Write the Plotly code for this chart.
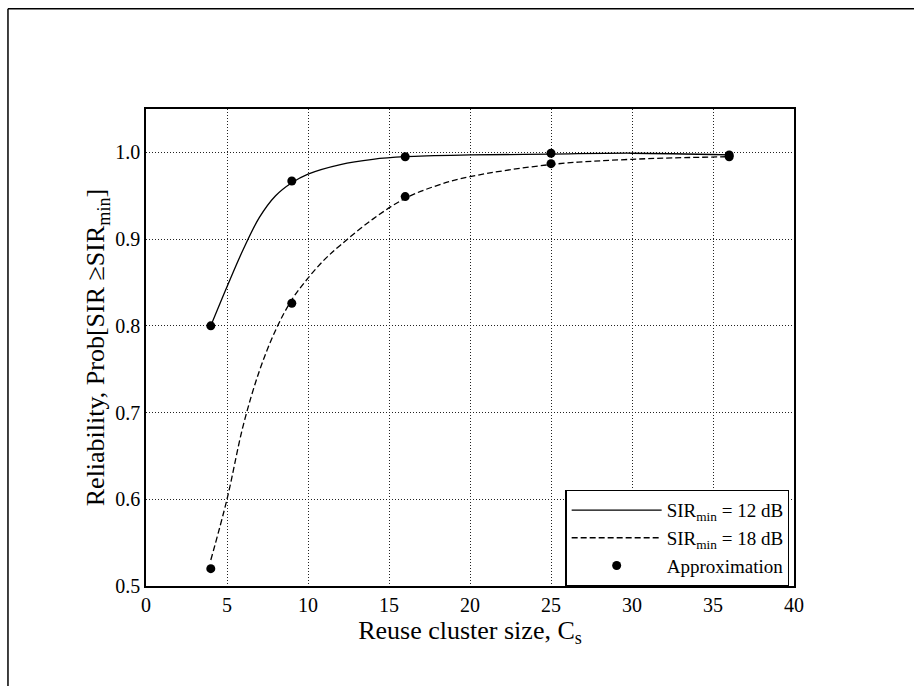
import plotly.graph_objects as go

# Approximation points
cluster_sizes = [4, 9, 16, 25, 36]
approx_12db = [0.800, 0.967, 0.995, 0.999, 0.997]
approx_18db = [0.520, 0.826, 0.949, 0.987, 0.995]

# Exact curves
curve_x_12 = [4, 5, 6, 7, 8, 9, 10, 12, 14, 16, 20, 25, 30, 36]
curve_y_12 = [0.800, 0.845, 0.888, 0.925, 0.950, 0.965, 0.975, 0.986, 0.992, 0.995, 0.997, 0.998, 0.999, 0.997]
curve_x_18 = [4, 5, 6, 7, 8, 9, 10, 11, 12, 14, 16, 18, 20, 25, 30, 36]
curve_y_18 = [0.530, 0.600, 0.685, 0.748, 0.795, 0.830, 0.855, 0.876, 0.893, 0.923, 0.947, 0.962, 0.972, 0.986, 0.992, 0.995]

x_ticks = [0, 5, 10, 15, 20, 25, 30, 35, 40]
y_ticks = [0.5, 0.6, 0.7, 0.8, 0.9, 1.0]

x_title = "Reuse cluster size, C<sub>s</sub>"
y_title = "Reliability, Prob[SIR \u2265SIR<sub>min</sub>]"

FONT = "Liberation Serif, Times New Roman, serif"

fig = go.Figure()
fig.add_trace(go.Scatter(x=curve_x_12, y=curve_y_12, mode="lines", line_shape="spline",
                         line=dict(color="black", width=1.3),
                         name="SIR<sub>min</sub> = 12 dB"))
fig.add_trace(go.Scatter(x=curve_x_18, y=curve_y_18, mode="lines", line_shape="spline",
                         line=dict(color="black", width=1.3, dash="6px,3px"),
                         name="SIR<sub>min</sub> = 18 dB"))
fig.add_trace(go.Scatter(x=cluster_sizes, y=approx_12db, mode="markers",
                         marker=dict(color="black", size=9),
                         name="Approximation"))
fig.add_trace(go.Scatter(x=cluster_sizes, y=approx_18db, mode="markers",
                         marker=dict(color="black", size=9),
                         name="Approximation", showlegend=False))

axis_common = dict(showline=True, linecolor="black", linewidth=1.5, mirror=True,
                   showgrid=True, gridcolor="#222222", gridwidth=1, griddash="1px,2px",
                   zeroline=False, ticks="", tickfont=dict(family=FONT, size=20, color="black"))

fig.update_xaxes(range=[0, 40], tickvals=x_ticks, ticktext=[str(v) for v in x_ticks],
                 title=dict(text=x_title,
                            font=dict(family=FONT, size=26, color="black"), standoff=2),
                 **axis_common)
fig.update_yaxes(range=[0.5, 1.05], tickvals=y_ticks, ticktext=[f"{v:.1f}" for v in y_ticks],
                 **axis_common)

fig.update_layout(
    width=914, height=686,
    margin=dict(l=146, r=120, t=109, b=100),
    paper_bgcolor="white", plot_bgcolor="white",
    font=dict(family=FONT, color="black"),
    legend=dict(x=0.993, y=0.0, xanchor="right", yanchor="bottom",
                bgcolor="white", bordercolor="black", borderwidth=1.2,
                font=dict(family=FONT, size=19, color="black"),
                itemwidth=90, tracegroupgap=0),
    annotations=[
        dict(text=y_title, xref="paper", yref="paper", x=-0.076, y=0.5,
             xanchor="center", yanchor="middle", textangle=-90, showarrow=False,
             font=dict(family=FONT, size=26, color="black")),
    ],
    shapes=[
        dict(type="line", xref="paper", yref="paper", x0=-0.213, x1=-0.213,
             y0=-0.25, y1=1.21, line=dict(color="black", width=1.5)),
        dict(type="line", xref="paper", yref="paper", x0=-0.213, x1=1.2,
             y0=1.21, y1=1.21, line=dict(color="black", width=1.5)),
    ],
)

fig.write_html("out.html")
